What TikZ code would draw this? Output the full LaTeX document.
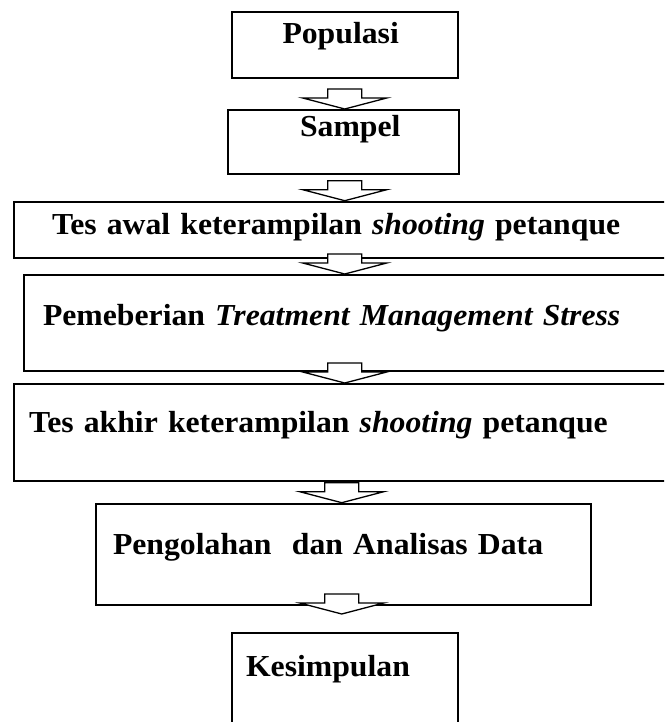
\documentclass[tikz,border=0pt]{standalone}
\usepackage{fontspec}
\setmainfont{Liberation Serif}[FakeStretch=1.04]
\usepackage{tikz}
\usetikzlibrary{positioning}

\begin{document}
\begin{tikzpicture}[
		x=1pt, y=-1pt,
		stage/.style={rectangle, draw, line width=2pt, anchor=north west, inner ysep=0pt, align=left, font=\fontsize{30.5}{35}\selectfont\bfseries},
		blockarrow/.pic={
			\draw[line width=1.3pt, fill=white, line join=miter]
				(-17,-20) -- (17,-20) -- (17,-11) -- (42,-11) -- (0,0) -- (-42,-11) -- (-17,-11) -- cycle;
		},
		]
		\useasboundingbox (0,0) rectangle (664,722);
		\clip (0,0) rectangle (664,722);
		\node[stage, inner xsep=38.3pt, text width=590pt, text height=33pt, text depth=23pt] (awal) at (12.7,200.7) {Tes awal keterampilan \textit{shooting} petanque};
		\node[stage, inner xsep=50.8pt, text width=124.5pt, text height=32.3pt, text depth=33.7pt] (pop) at (230.7,10.7) {Populasi};
		\node[stage, inner xsep=71.7pt, text width=87.3pt, text height=26.5pt, text depth=37.5pt] (smp) at (227.3,109) {Sampel};
		\node[stage, inner xsep=19.3pt, text width=619pt, text height=50pt, text depth=46pt] (pem) at (22.7,274) {Pemeberian \textit{Treatment Management Stress}};
		\node[stage, inner xsep=15.3pt, text width=637pt, text height=48.5pt, text depth=48.5pt] (akhir) at (12.7,383) {Tes akhir keterampilan \textit{shooting} petanque};
		\node[stage, inner xsep=17pt, text width=461pt, text height=50.3pt, text depth=51pt] (olah) at (95,502.7) {Pengolahan\ \ dan Analisas Data};
		\node[stage, inner xsep=14.3pt, text width=197.7pt, text height=44pt, text depth=64.3pt] (kes) at (230.7,631.7) {Kesimpulan};
		% panah blok antar tahap
		\pic at (smp.north -| pop.center) {blockarrow};
		\pic at (awal.north -| pop.center) {blockarrow};
		\pic at (pem.north -| pop.center) {blockarrow};
		\pic at (akhir.north -| pop.center) {blockarrow};
		\pic at ([xshift=-3pt]olah.north -| pop.center) {blockarrow};
		\pic at ([xshift=-3pt,yshift=-8pt]olah.south -| pop.center) {blockarrow};
	\end{tikzpicture}
\end{document}
